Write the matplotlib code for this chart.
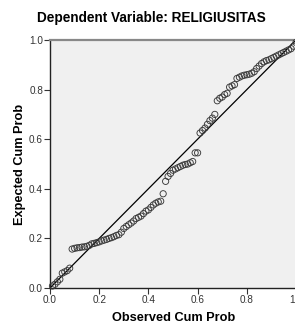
import matplotlib
matplotlib.use("Agg")
import matplotlib.pyplot as plt

title = "Dependent Variable: RELIGIUSITAS"
x_label = "Observed Cum Prob"
y_label = "Expected Cum Prob"
tick_values = [0.0, 0.2, 0.4, 0.6, 0.8, 1.0]
x_tick_labels = ["0.0", "0.2", "0.4", "0.6", "0.8", "1.0"]
y_tick_labels = ["0.0", "0.2", "0.4", "0.6", "0.8", "1.0"]

observed = [0.01, 0.02, 0.03, 0.04, 0.05, 0.06, 0.07, 0.08, 0.09, 0.10,
            0.11, 0.12, 0.13, 0.14, 0.15, 0.16, 0.17, 0.18, 0.19, 0.20,
            0.21, 0.22, 0.23, 0.24, 0.25, 0.26, 0.27, 0.28, 0.29, 0.30,
            0.31, 0.32, 0.33, 0.34, 0.35, 0.36, 0.37, 0.38, 0.39, 0.40,
            0.41, 0.42, 0.43, 0.44, 0.45, 0.46, 0.47, 0.48, 0.49, 0.50,
            0.51, 0.52, 0.53, 0.54, 0.55, 0.56, 0.57, 0.58, 0.59, 0.60,
            0.61, 0.62, 0.63, 0.64, 0.65, 0.66, 0.67, 0.68, 0.69, 0.70,
            0.71, 0.72, 0.73, 0.74, 0.75, 0.76, 0.77, 0.78, 0.79, 0.80,
            0.81, 0.82, 0.83, 0.84, 0.85, 0.86, 0.87, 0.88, 0.89, 0.90,
            0.91, 0.92, 0.93, 0.94, 0.95, 0.96, 0.97, 0.98, 0.99, 1.00]

expected = [0.008, 0.015, 0.025, 0.035, 0.06, 0.065, 0.07, 0.08, 0.157, 0.16,
            0.162, 0.163, 0.165, 0.166, 0.168, 0.172, 0.178, 0.18, 0.183, 0.186,
            0.19, 0.193, 0.196, 0.2, 0.203, 0.207, 0.212, 0.215, 0.225, 0.24,
            0.248, 0.255, 0.262, 0.27, 0.28, 0.285, 0.29, 0.30, 0.31, 0.315,
            0.325, 0.335, 0.342, 0.347, 0.35, 0.38, 0.43, 0.45, 0.462, 0.475,
            0.48, 0.485, 0.49, 0.495, 0.498, 0.50, 0.505, 0.51, 0.545, 0.545,
            0.625, 0.635, 0.645, 0.66, 0.675, 0.685, 0.70, 0.755, 0.765, 0.77,
            0.78, 0.785, 0.81, 0.815, 0.82, 0.845, 0.85, 0.855, 0.858, 0.86,
            0.862, 0.866, 0.872, 0.885, 0.895, 0.905, 0.912, 0.917, 0.92, 0.925,
            0.93, 0.935, 0.94, 0.945, 0.95, 0.955, 0.96, 0.965, 0.975, 0.99]

plt.rcParams['font.family'] = ['Liberation Sans', 'DejaVu Sans']

fig = plt.figure(figsize=(2.95, 3.24), dpi=100)
fig.patch.set_facecolor('white')
ax = fig.add_axes([50/295, 1 - 288/324, 246/295, 248/324])
ax.set_facecolor('#f0f0f0')

ax.plot([0, 1], [0, 1], color='black', linewidth=0.9, zorder=2)
ax.scatter(observed, expected, s=20, facecolors='none', edgecolors='#3a3a3a',
           linewidths=0.65, zorder=3, clip_on=False)

ax.set_xlim(0, 1)
ax.set_ylim(0, 1)
ax.set_xticks(tick_values)
ax.set_xticklabels(x_tick_labels)
ax.set_yticks(tick_values)
ax.set_yticklabels(y_tick_labels)
ax.tick_params(direction='out', length=4, width=0.8, labelsize=7.2, colors='#333333', pad=1)

for side in ['left', 'bottom']:
    ax.spines[side].set_color('#222222')
    ax.spines[side].set_linewidth(1.0)
ax.spines['top'].set_color('#888888')
ax.spines['top'].set_linewidth(1.6)
ax.spines['right'].set_color('#888888')

ax.set_xlabel(x_label, fontsize=9.2, fontweight='bold')
ax.xaxis.set_label_coords(174/246 - 50/246 + 0.0, -(318 - 288)/248, transform=None) if False else None
ax.xaxis.set_label_coords((174 - 50)/246, -(318 - 288)/248)
ax.xaxis.label.set_va('center')
ax.set_ylabel(y_label, fontsize=9.2, fontweight='bold')
ax.yaxis.set_label_coords(-(50 - 20)/246, 0.5)
ax.yaxis.label.set_va('center')
fig.text(151/295, 1 - 18/324, title, ha='center', va='center', fontsize=9.8, fontweight='bold')

fig.savefig('out.png', dpi=100)
